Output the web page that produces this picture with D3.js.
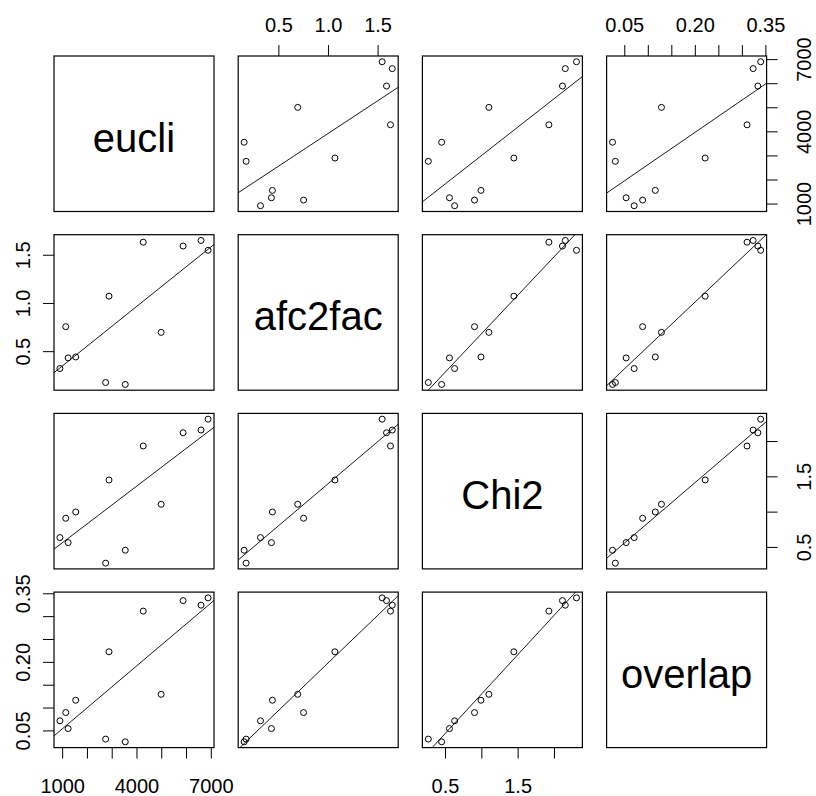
<!DOCTYPE html>
<meta charset="utf-8">

<!-- Load d3.js -->
<script src="https://d3js.org/d3.v7.min.js"></script>

<style>
  body { margin: 0; background: white; }
  text { font-family: "Liberation Sans", Arial, sans-serif; fill: black; }
</style>

<!-- Create a div where the graph will take place -->
<div id="my_dataviz"></div>
<script>

  // the four variables, one value per observation (12 obs)
  var varNames = ["eucli", "afc2fac", "Chi2", "overlap"];
  var eucli   = [910, 1145, 1241, 1547, 2755, 2891, 3547, 4272, 4996, 5882, 6606, 6890];
  var afc2fac = [0.32, 0.754, 0.43, 0.44, 0.175, 1.07, 0.155, 1.63, 0.695, 1.59, 1.648, 1.546];
  var chi2    = [0.632, 0.906, 0.561, 0.995, 0.27, 1.448, 0.453, 1.93, 1.104, 2.117, 2.156, 2.31];
  var overlap = [0.071, 0.089, 0.054, 0.116, 0.031, 0.222, 0.025, 0.311, 0.129, 0.334, 0.324, 0.34];

  // tick positions and the labels R kept (blank = tick without label)
  var euclTicks     = [1000, 2000, 3000, 4000, 5000, 6000, 7000];
  var euclLabels    = ["1000", "", "", "4000", "", "", "7000"];
  var afcTicks      = [0.5, 1.0, 1.5];
  var afcLabels     = ["0.5", "1.0", "1.5"];
  var chiTicks      = [0.5, 1.0, 1.5, 2.0];
  var chiLabels     = ["0.5", "", "1.5", ""];
  var overlapTicks  = [0.05, 0.10, 0.15, 0.20, 0.25, 0.30, 0.35];
  var overlapLabels = ["0.05", "", "", "0.20", "", "", "0.35"];

  var columns = [eucli, afc2fac, chi2, overlap];
  var tickSets = [euclTicks, afcTicks, chiTicks, overlapTicks];
  var labelSets = [euclLabels, afcLabels, chiLabels, overlapLabels];

  // layout of the 4x4 grid
  var margin = {top: 56, left: 54},
      panelW = 160, panelH = 155.5,
      gapX = 24.2, gapY = 23.2,
      n = varNames.length;

  var svg = d3.select("#my_dataviz")
    .append("svg")
      .attr("width", 816)
      .attr("height", 796);

  // R style scales: data range stretched by 4% each side
  function padded(v) {
    var e = d3.extent(v), r = e[1] - e[0];
    return [e[0] - 0.04 * r, e[1] + 0.04 * r];
  }
  var xScales = columns.map(function(v) {
    return d3.scaleLinear().domain(padded(v)).range([0, panelW]);
  });
  var yScales = columns.map(function(v) {
    return d3.scaleLinear().domain(padded(v)).range([panelH, 0]);
  });

  // least squares fit y ~ x
  function fit(xs, ys) {
    var mx = d3.mean(xs), my = d3.mean(ys), sxy = 0, sxx = 0;
    xs.forEach(function(x, k) {
      sxy += (x - mx) * (ys[k] - my);
      sxx += (x - mx) * (x - mx);
    });
    var b = sxy / sxx;
    return {a: my - b * mx, b: b};
  }

  function styleAxis(g) {
    g.select(".domain").remove();
    g.selectAll(".tick line").attr("stroke", "black");
    g.selectAll(".tick text")
      .style("font-size", "20px")
      .attr("fill", "black");
  }

  for (var i = 0; i < n; i++) {
    for (var j = 0; j < n; j++) {
      var px = margin.left + j * (panelW + gapX),
          py = margin.top + i * (panelH + gapY);
      var g = svg.append("g")
        .attr("transform", "translate(" + px + "," + py + ")");

      var xs = xScales[j], ys = yScales[i];

      if (i === j) {
        // variable name on the diagonal
        g.append("text")
          .attr("x", panelW / 2)
          .attr("y", panelH / 2 + 18)
          .attr("text-anchor", "middle")
          .style("font-size", "40px")
          .text(varNames[i]);
      } else {
        var clipId = "clip" + i + "_" + j;
        g.append("clipPath")
          .attr("id", clipId)
          .append("rect")
            .attr("width", panelW)
            .attr("height", panelH);

        var xv = columns[j], yv = columns[i];
        var f = fit(xv, yv);
        var dom = xs.domain();

        g.append("line")
          .attr("clip-path", "url(#" + clipId + ")")
          .attr("x1", xs(dom[0]))
          .attr("y1", ys(f.a + f.b * dom[0]))
          .attr("x2", xs(dom[1]))
          .attr("y2", ys(f.a + f.b * dom[1]))
          .attr("stroke", "#1a1a1a")
          .attr("stroke-width", 1);

        g.selectAll("circle")
          .data(d3.range(xv.length))
          .enter()
          .append("circle")
            .attr("cx", function(k) { return xs(xv[k]); })
            .attr("cy", function(k) { return ys(yv[k]); })
            .attr("r", 3)
            .attr("fill", "none")
            .attr("stroke", "black")
            .attr("stroke-width", 1);
      }

      // box
      g.append("rect")
        .attr("width", panelW)
        .attr("height", panelH)
        .attr("fill", "none")
        .attr("stroke", "black")
        .attr("stroke-width", 1.2);

      // axes alternate around the outside, like pairs()
      if (i === 0 && j % 2 === 1) {
        g.append("g")
          .call(d3.axisTop(xs).tickValues(tickSets[j]).tickSize(11).tickPadding(13)
            .tickFormat(function(d, k) { return this.lab[k]; }.bind({lab: labelSets[j]})))
          .call(styleAxis);
      }
      if (i === n - 1 && j % 2 === 0) {
        g.append("g")
          .attr("transform", "translate(0," + panelH + ")")
          .call(d3.axisBottom(xs).tickValues(tickSets[j]).tickSize(11).tickPadding(20)
            .tickFormat(function(d, k) { return this.lab[k]; }.bind({lab: labelSets[j]})))
          .call(styleAxis);
      }
      if (j === 0 && i % 2 === 1) {
        g.append("g")
          .call(d3.axisLeft(ys).tickValues(tickSets[i]).tickSize(11)
            .tickFormat(function(d, k) { return this.lab[k]; }.bind({lab: labelSets[i]})))
          .call(styleAxis)
          .selectAll(".tick text")
            .attr("transform", "rotate(-90)")
            .attr("x", 0)
            .attr("y", -24)
            .attr("dy", 0)
            .attr("text-anchor", "middle");
      }
      if (j === n - 1 && i % 2 === 0) {
        g.append("g")
          .attr("transform", "translate(" + panelW + ",0)")
          .call(d3.axisRight(ys).tickValues(tickSets[i]).tickSize(11)
            .tickFormat(function(d, k) { return this.lab[k]; }.bind({lab: labelSets[i]})))
          .call(styleAxis)
          .selectAll(".tick text")
            .attr("transform", "rotate(-90)")
            .attr("x", 0)
            .attr("y", 44)
            .attr("dy", 0)
            .attr("text-anchor", "middle");
      }
    }
  }

</script>
